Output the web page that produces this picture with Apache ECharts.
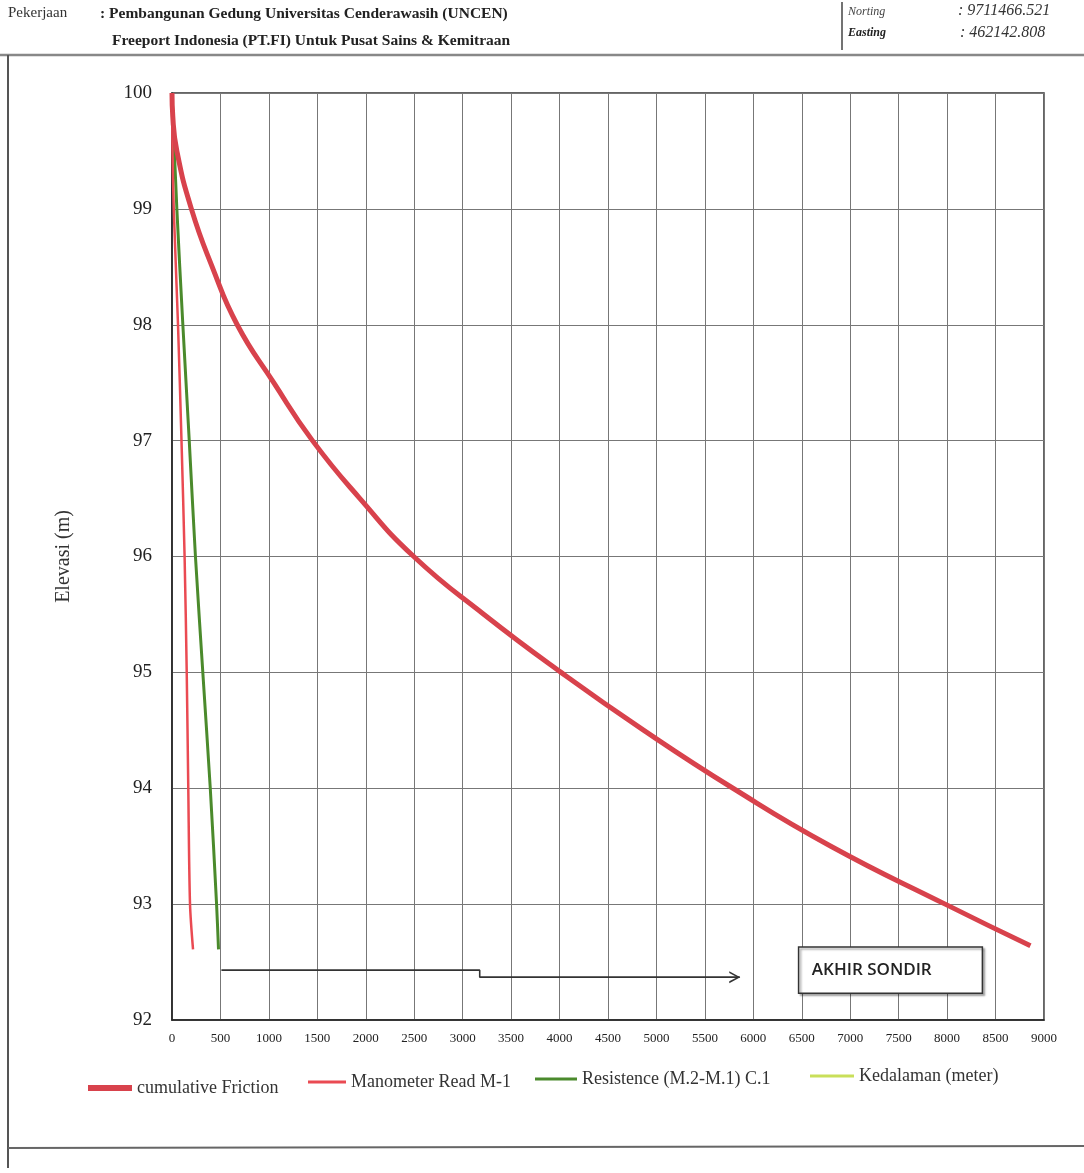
<!DOCTYPE html>
<html>
<head>
<meta charset="utf-8">
<script src="https://cdn.jsdelivr.net/npm/echarts@6/dist/echarts.min.js"></script>
<style>
html,body{margin:0;padding:0;background:#fff;}
#chart{width:1084px;height:1173px;}
</style>
</head>
<body>
<div id="chart"></div>
<script>
// ---- data (elevation m vs value) ----
const frictionElev = [100, 99.8, 99.5, 99, 98.5, 98, 97.5, 97, 96.5, 96, 95.5, 95, 94.5, 94, 93.5, 93, 92.64];
const frictionVal  = [0, 8, 50, 200, 415, 673, 1050, 1450, 1940, 2495, 3220, 4016, 4870, 5790, 6800, 7980, 8860];

const manoElev = [100, 99.5, 99, 98, 97, 96, 95, 94, 93, 92.61];
const manoVal  = [0, 5, 18, 62, 98, 130, 152, 168, 186, 217];

const resElev = [100, 99, 98, 97, 96, 95, 94, 93, 92.61];
const resVal  = [0, 50, 112, 178, 242, 318, 395, 460, 480];

const kedalamanElev = [];
const kedalamanVal  = [];

// annotation "AKHIR SONDIR" arrow path and box (data coordinates)
const arrowX = [510, 3176, 3176, 5860];
const arrowY = [92.43, 92.43, 92.37, 92.37];
const boxX = [6467, 8364];
const boxY = [92.63, 92.23];
const boxText = 'AKHIR SONDIR';

const xMin = 0, xMax = 9000, xStep = 500;
const yMin = 92, yMax = 100, yStep = 1;

function pairs(xs, ys){ return xs.map((x,i)=>[x, ys[i]]); }

const serif = '"Liberation Serif", "DejaVu Serif", serif';
const chart = echarts.init(document.getElementById('chart'));

const arrowData = pairs(arrowX, arrowY).map((p,i,a)=> i===a.length-1 ? {
  value: p,
  symbol: 'path://M0,0 L10,5 L0,10 L0,8.4 L7.2,5 L0,1.6 Z',
  symbolSize: [11, 12],
  symbolOffset: [-5, 0],
  itemStyle: {color:'#333'}
} : {value: p, symbol: 'none'});

const legendText = {fontFamily: serif, fontSize: 18, color: '#333'};

chart.setOption({
  backgroundColor: '#fff',
  animation: false,
  grid: {left: 172, right: 40, top: 93, bottom: 153, show: true, borderColor: '#333', borderWidth: 1.5, backgroundColor: 'transparent'},
  xAxis: {
    type: 'value', min: xMin, max: xMax, interval: xStep,
    axisLine: {show: true, lineStyle: {color: '#222', width: 1.5}},
    axisTick: {show: false},
    axisLabel: {fontFamily: serif, fontSize: 13, color: '#222', margin: 12, formatter: v => String(v)},
    splitLine: {show: true, lineStyle: {color: '#777', width: 1}}
  },
  yAxis: {
    type: 'value', min: yMin, max: yMax, interval: yStep,
    name: 'Elevasi (m)', nameLocation: 'middle', nameGap: 98, nameRotate: 90,
    nameTextStyle: {fontFamily: serif, fontSize: 20, color: '#333'},
    axisLine: {show: true, lineStyle: {color: '#222', width: 1.5}},
    axisTick: {show: false},
    axisLabel: {fontFamily: serif, fontSize: 19, color: '#222', margin: 20, formatter: v => String(v)},
    splitLine: {show: true, lineStyle: {color: '#777', width: 1}}
  },
  legend: [
    {data: ['cumulative Friction'], left: 83, top: 1074, icon: 'rect', itemWidth: 44, itemHeight: 6, textStyle: legendText},
    {data: ['Manometer Read M-1'], left: 303, top: 1068, icon: 'rect', itemWidth: 38, itemHeight: 3, textStyle: legendText},
    {data: ['Resistence (M.2-M.1) C.1'], left: 530, top: 1065, icon: 'rect', itemWidth: 42, itemHeight: 3, textStyle: legendText},
    {data: ['Kedalaman (meter)'], left: 805, top: 1062, icon: 'rect', itemWidth: 44, itemHeight: 3, textStyle: legendText}
  ],
  series: [
    {name: 'Kedalaman (meter)', type: 'line', data: pairs(kedalamanVal, kedalamanElev), symbol: 'none', color: '#c9df5a', lineStyle: {width: 2}},
    {name: 'Resistence (M.2-M.1) C.1', type: 'line', data: pairs(resVal, resElev), symbol: 'none', smooth: 0.3, color: '#4b8a2c', lineStyle: {width: 3}},
    {name: 'Manometer Read M-1', type: 'line', data: pairs(manoVal, manoElev), symbol: 'none', smooth: 0.3, color: '#ea4a52', lineStyle: {width: 2.5}},
    {name: 'cumulative Friction', type: 'line', data: pairs(frictionVal, frictionElev), symbol: 'none', smooth: 0.5, color: '#d8424c', lineStyle: {width: 5}},
    {name: 'annotation', type: 'line', data: arrowData, color: '#333', lineStyle: {width: 1.6, color: '#333'}, silent: true, z: 5,
     markArea: {silent: true,
       itemStyle: {color: '#fff', borderColor: '#333', borderWidth: 1.5, shadowColor: 'rgba(0,0,0,0.35)', shadowOffsetX: 2, shadowOffsetY: 2, shadowBlur: 2},
       label: {show: true, position: 'insideLeft', distance: 14, formatter: boxText, fontFamily: '"Open Sans", sans-serif', fontWeight: 600, fontSize: 17, color: '#222'},
       data: [[{coord: [boxX[0], boxY[0]]}, {coord: [boxX[1], boxY[1]]}]]
     }
    }
  ],
  graphic: [
    {type: 'line', shape: {x1: 0, y1: 55, x2: 1084, y2: 55}, style: {stroke: '#888', lineWidth: 2.5}},
    {type: 'line', shape: {x1: 8, y1: 55, x2: 8, y2: 1168}, style: {stroke: '#555', lineWidth: 2}},
    {type: 'line', shape: {x1: 8, y1: 1148, x2: 1084, y2: 1146}, style: {stroke: '#666', lineWidth: 2}},
    {type: 'line', shape: {x1: 842, y1: 2, x2: 842, y2: 50}, style: {stroke: '#444', lineWidth: 1.5}},
    {type: 'text', left: 8, top: 6, style: {text: 'Pekerjaan', font: '15px ' + serif, fill: '#333'}},
    {type: 'text', left: 100, top: 6, style: {text: ': Pembangunan Gedung Universitas Cenderawasih (UNCEN)', font: 'bold 15.5px ' + serif, fill: '#222'}},
    {type: 'text', left: 112, top: 33, style: {text: 'Freeport Indonesia (PT.FI) Untuk Pusat Sains & Kemitraan', font: 'bold 15.5px ' + serif, fill: '#222'}},
    {type: 'text', left: 848, top: 6, style: {text: 'Norting', font: 'italic 12px ' + serif, fill: '#444'}},
    {type: 'text', left: 848, top: 27, style: {text: 'Easting', font: 'italic bold 12px ' + serif, fill: '#222'}},
    {type: 'text', left: 958, top: 3, style: {text: ': 9711466.521', font: 'italic 16px ' + serif, fill: '#333'}},
    {type: 'text', left: 960, top: 25, style: {text: ': 462142.808', font: 'italic 16px ' + serif, fill: '#333'}}
  ]
});
</script>
</body>
</html>
